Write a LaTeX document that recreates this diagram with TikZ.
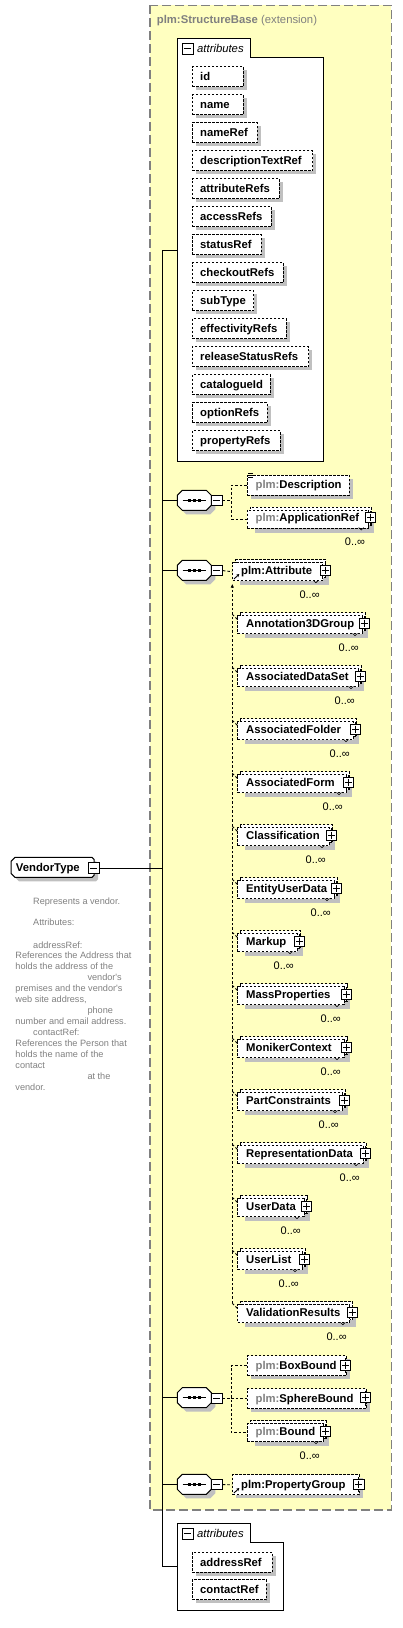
\documentclass[tikz,border=0pt]{standalone}
\usepackage{fontspec}
\setmainfont{Liberation Sans}
\usetikzlibrary{arrows.meta,calc}
\definecolor{extfill}{RGB}{255,255,192}
\definecolor{extline}{RGB}{128,128,128}
\definecolor{shadowc}{RGB}{192,192,192}
\definecolor{graytxt}{RGB}{128,128,128}
\tikzset{
  conn/.style={draw=black, line width=1pt},
  dconn/.style={draw=black, line width=0.9pt, dash pattern=on 2.5pt off 2pt},
  elbox/.style={draw=black, fill=white, line width=0.9pt, dash pattern=on 2.5pt off 1.5pt, inner sep=0pt, minimum height=20pt},
  iconbox/.style={draw=black, fill=white, line width=1pt, inner sep=0pt, minimum width=10.5pt, minimum height=10.5pt},
  lbl/.style={font=\fontsize{11.3}{13}\selectfont\bfseries, inner sep=0pt, anchor=base west},
  occ/.style={font=\fontsize{11}{13}\selectfont, inner sep=0pt, anchor=base east},
  doc/.style={font=\fontsize{9.15}{11}\selectfont, text=graytxt, inner sep=0pt, anchor=base west},
  ghost/.style={inner sep=0pt, draw=none},
}
\newcommand{\plusicon}[3]{%
  \draw[line width=0.8pt] (#2,#3-7) -- (#2,#3+8);
  \node[iconbox] (#1) at (#2,#3) {};
  \draw[line width=0.9pt] (#2-3.6,#3) -- (#2+3.6,#3) (#2,#3-3.6) -- (#2,#3+3.6);
}
\newcommand{\minusicon}[5]{%
  \node[iconbox, minimum width=#4, minimum height=#5] (#1) at (#2,#3) {};
  \draw[line width=0.9pt] (#2-3.6,#3) -- (#2+3.6,#3);
}
\newcommand{\seqsym}[2]{%
  \fill[shadowc] (186.3,#2-6) -- (210.3,#2-6) -- (215.3,#2-1) -- (215.3,#2+9) -- (210.3,#2+14) -- (186.3,#2+14) -- (181.3,#2+9) -- (181.3,#2-1) -- cycle;
  \filldraw[fill=white, draw=black, line width=1pt] (182.3,#2-10) -- (206.3,#2-10) -- (211.3,#2-5) -- (211.3,#2+5) -- (206.3,#2+10) -- (182.3,#2+10) -- (177.3,#2+5) -- (177.3,#2-5) -- cycle;
  \node[ghost, minimum width=34pt, minimum height=20pt] (#1) at (194.3,#2) {};
  \draw[line width=1pt] (182.7,#2) -- (206,#2);
  \foreach \dx in {189.3,194.3,199.3} \fill (\dx-1.7,#2-1.7) rectangle (\dx+1.7,#2+1.7);
  \minusicon{#1-m}{216.7}{#2+0.3}{11.3}{10}
}
\newcommand{\elsingle}[5]{%
  \fill[shadowc] (#2+4,#3-6) rectangle (#4+4,#3+14);
  \node[elbox, minimum width={#4-(#2)}, anchor=north west] (#1) at (#2,#3-10) {};
  \node[lbl] (#1-t) at (#2+8.7,#3+4) {#5};
}
\newcommand{\elmulti}[5]{%
  \fill[shadowc] (#2+8,#3-4) rectangle (#4+3.5,#3+15);
  \node[elbox, minimum width={#4-(#2)-3}, minimum height=18pt, anchor=north west] (#1-b) at (#2+3,#3-11) {};
  \node[elbox, minimum width={#4-(#2)-3}, minimum height=18pt, anchor=north west] (#1) at (#2,#3-8) {};
  \draw[line width=0.6pt] (#4-12,#3+10) -- (#4-9.5,#3+12.5) -- (#4-7,#3+10);
  \node[lbl] (#1-t) at (#2+8.7,#3+4) {#5};
  \node[occ] (#1-o) at (#4-5.5,#3+28) {0..∞};
}
\newcommand{\attrib}[4]{%
  \fill[shadowc] (195.7,#2+4) rectangle (#3+4,#2+24);
  \node[elbox, minimum width={#3-191.7}, anchor=north west] (#1) at (191.7,#2) {};
  \node[lbl] (#1-t) at (200,#2+14.3) {#4};
}
\newcommand{\pfx}{{\color{graytxt}plm:}}
\begin{document}
\begin{tikzpicture}[x=1pt,y=-1pt]
\useasboundingbox (0,0) rectangle (402,1628);

% extension box
\filldraw[fill=extfill, draw=extline, line width=1.2pt, dash pattern=on 9pt off 4pt] (150,5.3) rectangle (391.3,1510);
\node[ghost, minimum width=241pt, minimum height=1505pt, anchor=north west] (ext) at (150,5.3) {};
\node[lbl, text=graytxt] (title) at (156.7,23.2) {plm:StructureBase \mdseries(extension)};

% attribute containers
\filldraw[fill=white, draw=black, line width=1pt] (177.3,38.3) -- (250,38.3) -- (250,57.3) -- (323.3,57.3) -- (323.3,461.3) -- (177.3,461.3) -- cycle;
\node[ghost, minimum width=146pt, minimum height=423pt, anchor=north west] (attrsA) at (177.3,38.3) {};
\minusicon{attrsA-m}{187.5}{48.5}{11}{11}
\node[lbl, font=\fontsize{11.3}{13}\selectfont\itshape] (attrsA-t) at (197,52.3) {attributes};

\filldraw[fill=white, draw=black, line width=1pt] (177.3,1523.3) -- (250,1523.3) -- (250,1542.7) -- (283.3,1542.7) -- (283.3,1610) -- (177.3,1610) -- cycle;
\node[ghost, minimum width=106pt, minimum height=86.7pt, anchor=north west] (attrsB) at (177.3,1523.3) {};
\minusicon{attrsB-m}{187.5}{1533.5}{11}{11}
\node[lbl, font=\fontsize{11.3}{13}\selectfont\itshape] (attrsB-t) at (197,1537.5) {attributes};

\foreach \i/\nm/\R in {0/id/242.7, 1/name/242.7, 2/nameRef/257, 3/descriptionTextRef/312.3, 4/attributeRefs/278.7, 5/accessRefs/270.7, 6/statusRef/261, 7/checkoutRefs/282.7, 8/subType/253.3, 9/effectivityRefs/285.7, 10/releaseStatusRefs/308.3, 11/catalogueId/269.7, 12/optionRefs/267, 13/propertyRefs/279.7}{%
  \pgfmathsetmacro\tp{66.3+28*\i}
  \attrib{a\i}{\tp}{\R}{\nm}
}
\attrib{addressRef}{1551.7}{271.7}{addressRef}
\attrib{contactRef}{1579.3}{266}{contactRef}

% main bus
\coordinate (bus) at (162.3,0);
\draw[conn] (attrsA.west) -- (attrsA.west -| bus) -- (attrsB.west -| bus) -- (attrsB.west);

% VendorType
\fill[shadowc] (19,861.3) -- (96,861.3) -- (98,863.3) -- (98,879.3) -- (96,881.3) -- (19,881.3) -- (15,877.3) -- (15,865.3) -- cycle;
\filldraw[fill=white, draw=black, line width=1pt] (15,857.3) -- (92,857.3) -- (94,859.3) -- (94,875.3) -- (92,877.3) -- (15,877.3) -- (11,873.3) -- (11,861.3) -- cycle;
\node[ghost, minimum width=83pt, minimum height=20pt] (vt) at (52.5,867.3) {};
\node[lbl] (vt-t) at (15.7,871.5) {VendorType};
\minusicon{vt-m}{93.7}{868}{10.7}{10.7}
\draw[conn] (vt-m.east) -- (vt-m.east -| bus);

% documentation
\node[doc] (d1) at (33,904) {Represents a vendor.};
\node[doc] (d2) at (33,925.7) {Attributes:};
\node[doc] (d3) at (33,948) {addressRef:};
\node[doc] (d4) at (15.3,958.7) {References the Address that};
\node[doc] (d5) at (15.3,969.7) {holds the address of the};
\node[doc] (d6) at (87.3,980.7) {vendor\textquotesingle s};
\node[doc] (d7) at (15.3,991.7) {premises and the vendor\textquotesingle s};
\node[doc] (d8) at (15.3,1002.7) {web site address,};
\node[doc] (d9) at (87.3,1013.7) {phone};
\node[doc] (d10) at (15.3,1024.7) {number and email address.};
\node[doc] (d11) at (33,1035.7) {contactRef:};
\node[doc] (d12) at (15.3,1046.7) {References the Person that};
\node[doc] (d13) at (15.3,1057.7) {holds the name of the};
\node[doc] (d14) at (15.3,1068.7) {contact};
\node[doc] (d15) at (87.3,1079.7) {at the};
\node[doc] (d16) at (15.3,1090.7) {vendor.};

% sequence 1
\seqsym{s1}{500.3}
\draw[conn] (s1.west -| bus) -- (s1.west);
\coordinate (br1) at (231.3,0);
\elsingle{desc}{246.7}{484.5}{349}{\pfx Description}
\draw[line width=0.6pt] (248,473.3) -- (252.5,473.3) (248,475.3) -- (252.5,475.3) (248,477.3) -- (252.5,477.3);
\elmulti{appref}{246.7}{517.5}{370.7}{\pfx ApplicationRef}
\plusicon{appref-p}{370.7}{517.5}
\draw[dconn] (s1-m.east) -- (s1-m.east -| br1);
\draw[dconn] (desc.west) -- (desc.west -| br1) -- (appref.west -| br1) -- (appref.west);

% sequence 2
\seqsym{s2}{570.3}
\draw[conn] (s2.west -| bus) -- (s2.west);
\elmulti{attr}{232.3}{570.3}{325.3}{plm:Attribute}
\plusicon{attr-p}{325.3}{570.3}
\draw[line width=0.9pt, -{Stealth[length=3pt,width=3.2pt]}] (234,579) -- (239.3,574);
\draw[dconn] (s2-m.east) -- (attr.west);

\foreach \i/\lab/\R in {0/Annotation3DGroup/364.5, 1/AssociatedDataSet/360.5, 2/AssociatedFolder/355.5, 3/AssociatedForm/348.5, 4/Classification/331.5, 5/EntityUserData/336.5, 6/Markup/299.5, 7/MassProperties/346.5, 8/MonikerContext/346.5, 9/PartConstraints/344.5, 10/RepresentationData/365.5, 11/UserData/306.5, 12/UserList/304.5, 13/ValidationResults/352.3}{%
  \pgfmathsetmacro\cy{623.3+53*\i}
  \elmulti{m\i}{237.3}{\cy}{\R}{\lab}
  \plusicon{m\i-p}{\R}{\cy}
  \draw[dconn] ($(m\i.north west)+(-5,-1)$) -- ($(m\i.north west)+(0,4)$);
}
\draw[dconn, -{Latex[length=4pt,width=3.5pt]}] ($(m13.north west)+(-5,-1)$) -- ($(attr.south west)+(0,2.5)$);

% sequence 3
\seqsym{s3}{1397.7}
\draw[conn] (s3.west -| bus) -- (s3.west);
\elsingle{boxb}{246.7}{1365.3}{345.7}{\pfx BoxBound}
\plusicon{boxb-p}{345.7}{1365.3}
\elsingle{sphb}{246.7}{1398.3}{365.7}{\pfx SphereBound}
\plusicon{sphb-p}{365.7}{1397.7}
\elmulti{bnd}{246.7}{1431.3}{325.5}{\pfx Bound}
\plusicon{bnd-p}{325.5}{1431.3}
\draw[dconn] (s3-m.east) -- (s3-m.east -| br1);
\draw[dconn] (boxb.west) -- (boxb.west -| br1) -- (bnd.west -| br1) -- (bnd.west);
\draw[dconn] (sphb.west -| br1) -- (sphb.west);

% sequence 4
\seqsym{s4}{1484.3}
\draw[conn] (s4.west -| bus) -- (s4.west);
\elsingle{pgrp}{232.3}{1484.3}{358.8}{plm:PropertyGroup}
\plusicon{pgrp-p}{358.8}{1484.3}
\draw[line width=0.9pt, -{Stealth[length=3pt,width=3.2pt]}] (234,1493) -- (239.3,1488);
\draw[dconn] (s4-m.east) -- (pgrp.west);
\end{tikzpicture}
\end{document}
